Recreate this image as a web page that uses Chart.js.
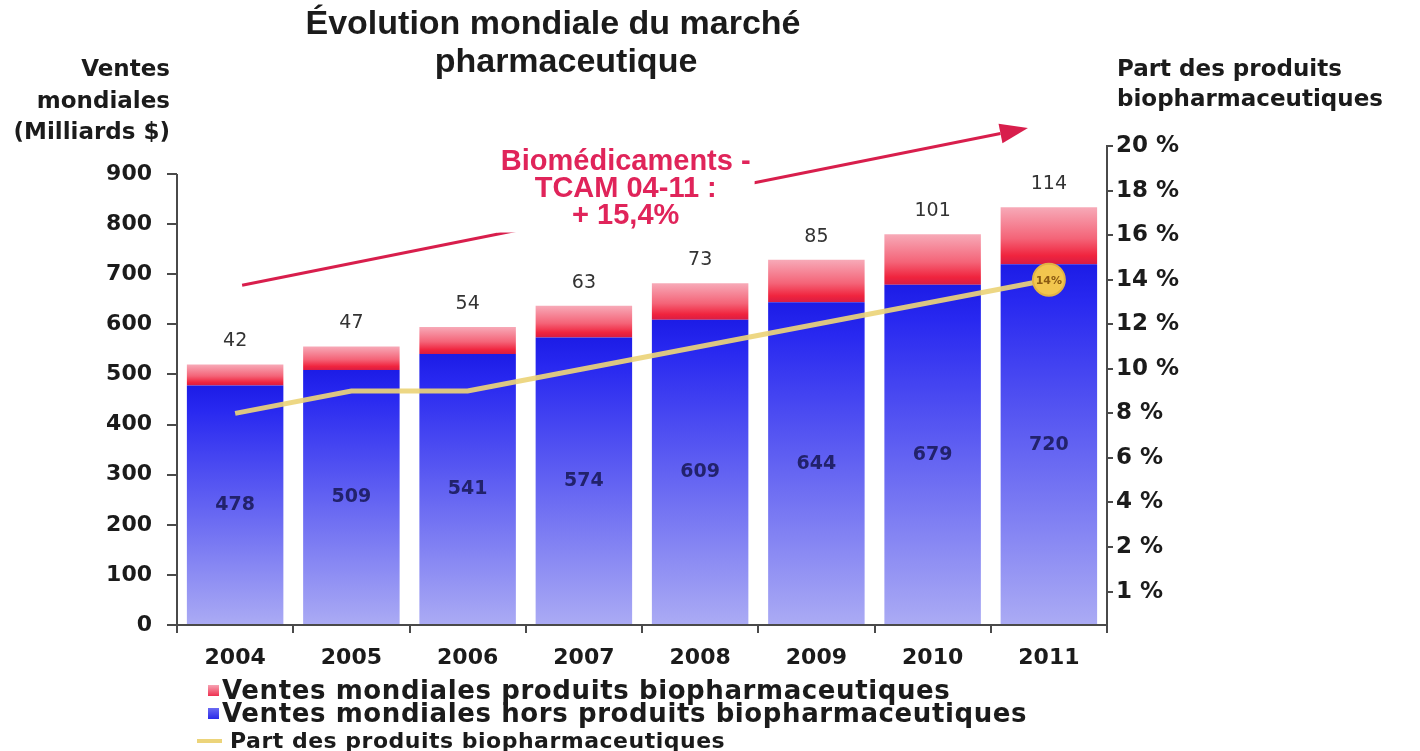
<!DOCTYPE html>
<html>
<head>
<meta charset="utf-8">
<script src="https://cdn.jsdelivr.net/npm/chart.js@4/dist/chart.umd.min.js"></script>
<style>
  html, body { margin: 0; padding: 0; background: #fff; }
  #wrap { position: relative; width: 1420px; height: 751px; overflow: hidden; }
  #chart { position: absolute; left: 0; top: 0; }
  .t { position: absolute; white-space: nowrap; color: #1b1b1b; font-weight: bold; font-family: "DejaVu Sans", sans-serif; }
  .title { font-family: "Liberation Sans", Arial, sans-serif; font-size: 34px; line-height: 38px; transform: translateX(-50%); }
  .axt { font-size: 23px; line-height: 30px; }
  .leg { font-size: 26px; line-height: 26px; letter-spacing: 0.6px; }
  .sw { position: absolute; width: 11px; height: 11px; }
</style>
</head>
<body>
<div id="wrap">
  <canvas id="chart" width="1420" height="751"></canvas>

  <div class="t title" style="left:553px; top:3px;">Évolution mondiale du marché</div>
  <div class="t title" style="left:566px; top:41px;">pharmaceutique</div>

  <div class="t axt" style="right:1250px; top:53px; text-align:right;">Ventes</div>
  <div class="t axt" style="right:1250px; top:85px; text-align:right;">mondiales</div>
  <div class="t axt" style="right:1250px; top:116px; text-align:right;">(Milliards $)</div>

  <div class="t axt" style="left:1117px; top:53px;">Part des produits</div>
  <div class="t axt" style="left:1117px; top:83px;">biopharmaceutiques</div>

  <div class="sw" style="left:208px; top:685px; background:linear-gradient(#f7a3b3,#ee3050);"></div>
  <div class="t leg" style="left:222px; top:677px;">Ventes mondiales produits biopharmaceutiques</div>
  <div class="sw" style="left:208px; top:708px; background:linear-gradient(#6a6af2,#2a2ae8);"></div>
  <div class="t leg" style="left:222px; top:700px;">Ventes mondiales hors produits biopharmaceutiques</div>
  <div style="position:absolute; left:197px; top:739px; width:25px; height:4px; background:#ecd47a;"></div>
  <div class="t" style="left:230px; top:729px; font-size:22px; line-height:24px; letter-spacing:0.5px;">Part des produits biopharmaceutiques</div>
</div>

<script>
const years = ['2004', '2005', '2006', '2007', '2008', '2009', '2010', '2011'];
const salesExclBio = [478, 509, 541, 574, 609, 644, 679, 720];
const salesBio = [42, 47, 54, 63, 73, 85, 101, 114];
const bioShare = [8, 9, 9, 10, 11, 12, 13, 14];

const leftTicks = [0, 100, 200, 300, 400, 500, 600, 700, 800, 900];
const rightTickValues = [0, 2, 4, 6, 8, 10, 12, 14, 16, 18, 20];
const rightTickLabels = ['1 %', '2 %', '4 %', '6 %', '8 %', '10 %', '12 %', '14 %', '16 %', '18 %', '20 %'];

const trendLines = ['Biomédicaments -', 'TCAM 04-11 :', '+ 15,4%'];
const shareBadge = '14%';

const AXIS = '#4a4a4a';

function blueFill(c) {
    const chart = c.chart;
    const y = chart.scales.y;
    if (!chart.chartArea || !y || c.type !== 'data') return '#4040f0';
    const top = y.getPixelForValue(salesExclBio[c.dataIndex]);
    const bottom = y.getPixelForValue(0);
    const g = chart.ctx.createLinearGradient(0, top, 0, bottom);
    g.addColorStop(0, '#1c1ce6');
    g.addColorStop(0.1, '#2828f0');
    g.addColorStop(0.5, '#6262f2');
    g.addColorStop(1, '#ababf4');
    return g;
}

function pinkFill(c) {
    const chart = c.chart;
    const y = chart.scales.y;
    if (!chart.chartArea || !y || c.type !== 'data') return '#f05070';
    const i = c.dataIndex;
    const top = y.getPixelForValue(salesExclBio[i] + salesBio[i]);
    const bottom = y.getPixelForValue(salesExclBio[i]);
    const g = chart.ctx.createLinearGradient(0, top, 0, bottom);
    g.addColorStop(0, '#f7aab8');
    g.addColorStop(0.55, '#f46478');
    g.addColorStop(0.85, '#f0243e');
    g.addColorStop(1, '#d81c44');
    return g;
}

const overlay = {
    id: 'overlay',
    afterDatasetsDraw(chart) {
        const { ctx, scales: { x, y } } = chart;
        ctx.save();

        // left axis line only up to 900
        ctx.strokeStyle = AXIS;
        ctx.lineWidth = 2;
        ctx.beginPath();
        ctx.moveTo(y.right, y.getPixelForValue(900));
        ctx.lineTo(y.right, y.getPixelForValue(0));
        ctx.stroke();

        // value labels
        ctx.textAlign = 'center';
        ctx.textBaseline = 'middle';
        years.forEach((yr, i) => {
            const cx = x.getPixelForValue(i);
            ctx.font = 'bold 19px "DejaVu Sans"';
            ctx.fillStyle = '#22226c';
            ctx.fillText(String(salesExclBio[i]), cx, y.getPixelForValue(salesExclBio[i] / 2));
            ctx.font = '19px "DejaVu Sans"';
            ctx.fillStyle = '#333';
            ctx.fillText(String(salesBio[i]), cx, y.getPixelForValue(salesExclBio[i] + salesBio[i]) - 23);
        });

        // badge text on last share point
        const lineMeta = chart.getDatasetMeta(2);
        const last = lineMeta.data[lineMeta.data.length - 1];
        ctx.font = 'bold 11px "DejaVu Sans"';
        ctx.fillStyle = '#8a5a12';
        ctx.fillText(shareBadge, last.x, last.y + 1);

        // trend arrow
        const x0 = x.getPixelForValue(0.06), y0 = y.getPixelForValue(678);
        const x1 = x.getPixelForValue(6.82), y1 = y.getPixelForValue(992);
        const ang = Math.atan2(y1 - y0, x1 - x0);
        const head = 28;
        ctx.strokeStyle = '#d81e4c';
        ctx.fillStyle = '#d81e4c';
        ctx.lineWidth = 3;
        ctx.beginPath();
        ctx.moveTo(x0, y0);
        ctx.lineTo(x1 - head * Math.cos(ang), y1 - head * Math.sin(ang));
        ctx.stroke();
        ctx.beginPath();
        ctx.moveTo(x1, y1);
        ctx.lineTo(x1 - head * Math.cos(ang) + 10 * Math.sin(ang), y1 - head * Math.sin(ang) - 10 * Math.cos(ang));
        ctx.lineTo(x1 - head * Math.cos(ang) - 10 * Math.sin(ang), y1 - head * Math.sin(ang) + 10 * Math.cos(ang));
        ctx.closePath();
        ctx.fill();

        // trend text on white block
        const tx = x.getPixelForValue(3.36);
        const ty = y.getPixelForValue(925);
        const gap = 27;
        ctx.font = 'bold 29px "Liberation Sans"';
        const w = Math.max(...trendLines.map(s => ctx.measureText(s).width));
        ctx.fillStyle = '#fff';
        ctx.fillRect(tx - w / 2 - 4, ty - 17, w + 8, gap * (trendLines.length - 1) + 34);
        ctx.fillStyle = '#e0245a';
        trendLines.forEach((s, k) => ctx.fillText(s, tx, ty + k * gap));

        ctx.restore();
    }
};

new Chart(document.getElementById('chart'), {
    data: {
        labels: years,
        datasets: [
            {
                type: 'bar',
                label: 'Ventes mondiales hors produits biopharmaceutiques',
                data: salesExclBio,
                backgroundColor: blueFill,
                yAxisID: 'y',
                stack: 's',
                order: 2,
                categoryPercentage: 1,
                barPercentage: 0.83
            },
            {
                type: 'bar',
                label: 'Ventes mondiales produits biopharmaceutiques',
                data: salesBio,
                backgroundColor: pinkFill,
                yAxisID: 'y',
                stack: 's',
                order: 2,
                categoryPercentage: 1,
                barPercentage: 0.83
            },
            {
                type: 'line',
                label: 'Part des produits biopharmaceutiques',
                data: bioShare,
                yAxisID: 'y2',
                borderColor: 'rgba(236, 212, 122, 0.92)',
                borderWidth: 5,
                tension: 0,
                pointRadius: bioShare.map((v, i) => i === bioShare.length - 1 ? 16 : 0),
                pointBackgroundColor: '#f2c64e',
                pointBorderColor: '#e2b244',
                pointBorderWidth: 2,
                order: 0
            }
        ]
    },
    options: {
        responsive: false,
        animation: false,
        layout: { padding: { top: 146, left: 0, right: 0, bottom: 0 } },
        plugins: {
            legend: { display: false },
            tooltip: { enabled: false }
        },
        scales: {
            x: {
                stacked: true,
                afterFit: s => { s.height = 126; },
                border: { color: AXIS, width: 2 },
                grid: { drawOnChartArea: false, color: AXIS, lineWidth: 2, tickLength: 8, offset: true },
                ticks: { color: '#1b1b1b', padding: 12, font: { family: 'DejaVu Sans', weight: 'bold', size: 22 } }
            },
            y: {
                stacked: true,
                position: 'left',
                min: 0,
                max: 956,
                afterFit: s => { s.width = 177; },
                afterBuildTicks: s => { s.ticks = leftTicks.map(v => ({ value: v })); },
                border: { display: false },
                grid: { drawOnChartArea: false, color: AXIS, lineWidth: 2, tickLength: 10 },
                ticks: { color: '#1b1b1b', padding: 15, font: { family: 'DejaVu Sans', weight: 'bold', size: 22 } }
            },
            y2: {
                position: 'right',
                min: -1.5,
                max: 20,
                afterFit: s => { s.width = 313; },
                afterBuildTicks: s => { s.ticks = rightTickValues.map(v => ({ value: v })); },
                border: { color: AXIS, width: 2 },
                grid: { drawOnChartArea: false, color: AXIS, lineWidth: 2, tickLength: 6 },
                ticks: {
                    color: '#1b1b1b',
                    padding: 3,
                    font: { family: 'DejaVu Sans', weight: 'bold', size: 23 },
                    callback: (v) => rightTickLabels[rightTickValues.indexOf(v)]
                }
            }
        }
    },
    plugins: [overlay]
});
</script>
</body>
</html>
